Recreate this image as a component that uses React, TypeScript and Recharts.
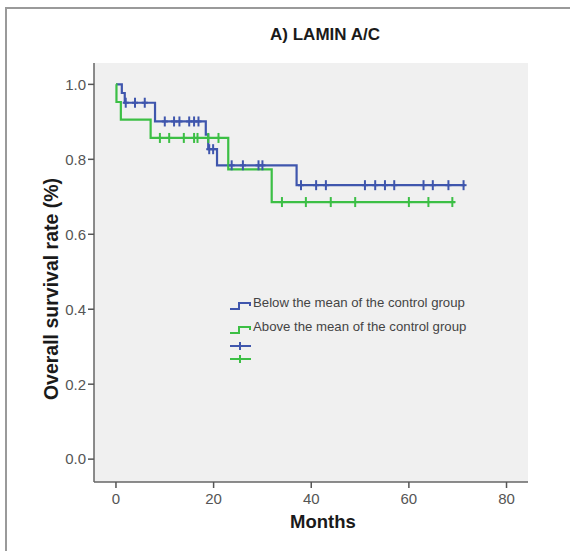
import React from 'react';
import {
  ComposedChart,
  Line,
  Scatter,
  XAxis,
  YAxis,
  CartesianGrid,
} from 'recharts';

// Kaplan-Meier steps: time (months) where each level starts, and the survival level
const belowTimes = [0, 1.2, 1.8, 8, 18.4, 18.9, 20.7, 37, 71.5];
const belowSurvival = [1.0, 0.977, 0.951, 0.901, 0.866, 0.827, 0.784, 0.731, 0.731];
const belowCensored = [
  2.0, 3.9, 5.9, 10, 11.9, 13, 15, 16, 16.9, 19.1, 19.9, 23.7, 26, 29.2, 30,
  37.9, 41, 43, 51, 53.1, 55.1, 57, 63, 64.9, 68.1, 71.2,
];

const aboveTimes = [0, 0.1, 1.0, 7.1, 23, 31.9, 69.5];
const aboveSurvival = [1.0, 0.953, 0.906, 0.857, 0.773, 0.686, 0.686];
const aboveCensored = [9, 10.9, 13.9, 16, 16.7, 18.9, 21, 34, 38.9, 44, 49, 60, 64, 68.9];

const xTicks = [0, 20, 40, 60, 80];
const yTicks = [0, 0.2, 0.4, 0.6, 0.8, 1.0];
const legendLabels = ['Below the mean of the control group', 'Above the mean of the control group'];

const BLUE = '#3f56ad';
const GREEN = '#3cbf45';
const FONT = '"Liberation Sans", Arial, Helvetica, sans-serif';

const toSteps = (times: number[], surv: number[]) =>
  times.map((t, i) => ({ t, s: surv[i] }));

const levelAt = (times: number[], surv: number[], t: number) => {
  let v = surv[0];
  times.forEach((tt, i) => {
    if (tt <= t) v = surv[i];
  });
  return v;
};

const toCensors = (times: number[], surv: number[], cens: number[]) =>
  cens.map((t) => ({ t, s: levelAt(times, surv, t) }));

const belowSteps = toSteps(belowTimes, belowSurvival);
const aboveSteps = toSteps(aboveTimes, aboveSurvival);
const belowMarks = toCensors(belowTimes, belowSurvival, belowCensored);
const aboveMarks = toCensors(aboveTimes, aboveSurvival, aboveCensored);

const censorShape = (color: string) => (props: any) => {
  const { cx, cy } = props;
  return (
    <g>
      <line x1={cx} x2={cx} y1={cy - 5} y2={cy + 5} stroke={color} strokeWidth={2} />
      <line x1={cx - 3} x2={cx + 3} y1={cy} y2={cy} stroke={color} strokeWidth={2} />
    </g>
  );
};

const StepIcon = ({ color }: { color: string }) => (
  <svg width={23} height={10} style={{ display: 'block' }}>
    <path d="M1,8 H10 V2 H21 V5" fill="none" stroke={color} strokeWidth={2} />
  </svg>
);

const PlusIcon = ({ color }: { color: string }) => (
  <svg width={23} height={10} style={{ display: 'block' }}>
    <line x1={1} x2={22} y1={5} y2={5} stroke={color} strokeWidth={2} />
    <line x1={11} x2={11} y1={1} y2={9} stroke={color} strokeWidth={2} />
  </svg>
);

const KmLegend = () => {
  const text = {
    position: 'absolute' as const,
    left: 253,
    fontFamily: FONT,
    fontSize: 13.2,
    lineHeight: '15px',
    color: '#444',
    whiteSpace: 'nowrap' as const,
  };
  return (
    <>
      <div style={{ position: 'absolute', left: 229, top: 301 }}>
        <StepIcon color={BLUE} />
      </div>
      <div style={{ ...text, top: 295 }}>{legendLabels[0]}</div>
      <div style={{ position: 'absolute', left: 229, top: 325 }}>
        <StepIcon color={GREEN} />
      </div>
      <div style={{ ...text, top: 319 }}>{legendLabels[1]}</div>
      <div style={{ position: 'absolute', left: 229, top: 341 }}>
        <PlusIcon color={BLUE} />
      </div>
      <div style={{ position: 'absolute', left: 229, top: 354 }}>
        <PlusIcon color={GREEN} />
      </div>
    </>
  );
};

export default function App() {
  const tickStyle = { fill: '#555', fontSize: 15, fontFamily: FONT };
  return (
    <div style={{ position: 'absolute', left: 0, top: 0, width: 570, height: 551, background: '#fff', overflow: 'hidden' }}>
      <div
        style={{
          position: 'absolute',
          left: 5,
          top: 7,
          width: 700,
          height: 700,
          borderTop: '2px solid #9a9a9a',
          borderLeft: '2px solid #9a9a9a',
        }}
      />
      <div
        style={{
          position: 'absolute',
          left: 0,
          width: 650,
          top: 25,
          textAlign: 'center',
          fontFamily: FONT,
          fontWeight: 'bold',
          fontSize: 17,
          color: '#1a1a1a',
        }}
      >
        A) LAMIN A/C
      </div>
      <div style={{ position: 'absolute', left: 0, top: 0 }}>
        <ComposedChart
          width={570}
          height={551}
          margin={{ top: 63, right: 42, bottom: 29, left: 44 }}
        >
          <CartesianGrid fill="#f0f0f0" horizontal={false} vertical={false} />
          <XAxis
            dataKey="t"
            type="number"
            domain={[-4.5, 84.4]}
            ticks={xTicks}
            allowDataOverflow
            height={40}
            tick={tickStyle}
            tickSize={6}
            tickMargin={5}
            axisLine={{ stroke: '#666', strokeWidth: 1.5 }}
            tickLine={{ stroke: '#555', strokeWidth: 1.5 }}
            label={{
              content: () => (
                <text x={323} y={528} textAnchor="middle" fontFamily={FONT} fontWeight="bold" fontSize={18.5} fill="#1a1a1a">
                  Months
                </text>
              ),
            }}
          />
          <XAxis
            xAxisId="top"
            orientation="top"
            type="number"
            domain={[-4.5, 84.4]}
            height={0}
            tick={false}
            tickLine={false}
            axisLine={{ stroke: '#777', strokeWidth: 1.5 }}
          />
          <YAxis
            type="number"
            domain={[-0.061, 1.057]}
            ticks={yTicks}
            allowDataOverflow
            width={50}
            tick={tickStyle}
            tickSize={6}
            tickMargin={2}
            tickFormatter={(v: number) => v.toFixed(1)}
            axisLine={{ stroke: '#666', strokeWidth: 1.5 }}
            tickLine={{ stroke: '#555', strokeWidth: 1.5 }}
            label={{
              content: () => (
                <text
                  x={58}
                  y={289}
                  transform="rotate(-90 58 289)"
                  textAnchor="middle"
                  fontFamily={FONT}
                  fontWeight="bold"
                  fontSize={19.5}
                  fill="#1a1a1a"
                >
                  Overall survival rate (%)
                </text>
              ),
            }}
          />
          <YAxis
            yAxisId="right"
            orientation="right"
            type="number"
            domain={[-0.061, 1.057]}
            width={0}
            tick={false}
            tickLine={false}
            axisLine={{ stroke: '#777', strokeWidth: 1.5 }}
          />
          <Line
            data={belowSteps}
            dataKey="s"
            type="stepAfter"
            stroke={BLUE}
            strokeWidth={2.2}
            dot={false}
            isAnimationActive={false}
          />
          <Line
            data={aboveSteps}
            dataKey="s"
            type="stepAfter"
            stroke={GREEN}
            strokeWidth={2.2}
            dot={false}
            isAnimationActive={false}
          />
          <Scatter data={belowMarks} dataKey="s" shape={censorShape(BLUE)} isAnimationActive={false} />
          <Scatter data={aboveMarks} dataKey="s" shape={censorShape(GREEN)} isAnimationActive={false} />
        </ComposedChart>
      </div>
      <KmLegend />
    </div>
  );
}
